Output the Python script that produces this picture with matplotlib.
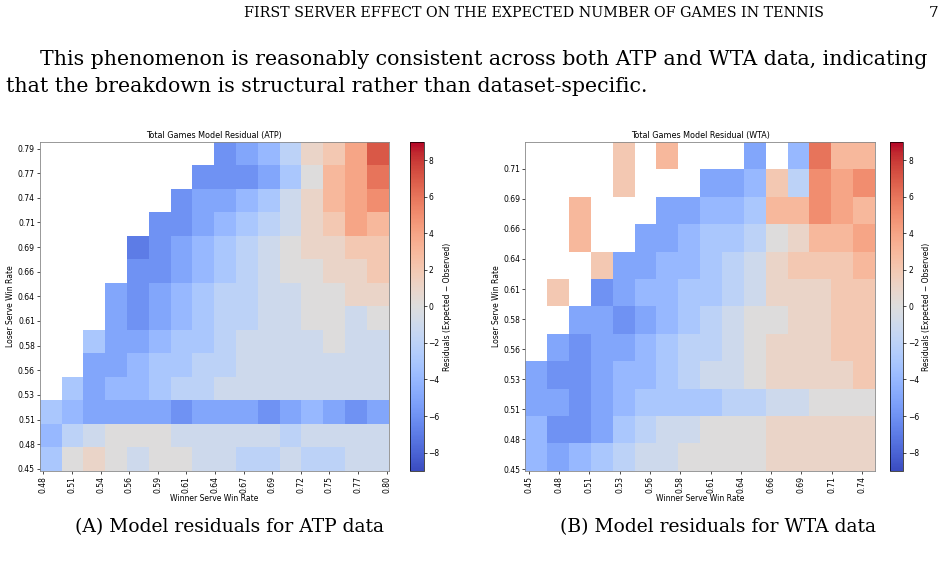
import numpy as np
import matplotlib
matplotlib.use("Agg")
import matplotlib.pyplot as plt

n = np.nan
# ATP grid: rows top->bottom
atp_x_range = (0.475, 0.805)
atp_y_range = (0.448, 0.795)
atp_vals = [
 [n,n,n,n,n,n,n,n,-6,-5,-4,-2,1,2,4,7],
 [n,n,n,n,n,n,n,-6,-6,-6,-5,-3,0,3,4,6],
 [n,n,n,n,n,n,-6,-5,-5,-4,-3,-1,1,3,4,5],
 [n,n,n,n,n,-6,-6,-5,-4,-3,-2,-1,1,2,4,3],
 [n,n,n,n,-7,-6,-5,-4,-3,-2,-1,0,1,1,2,2],
 [n,n,n,n,-6,-6,-5,-4,-3,-2,-1,0,0,1,1,2],
 [n,n,n,-5,-6,-5,-4,-3,-2,-2,-1,-1,0,0,1,1],
 [n,n,n,-5,-6,-5,-4,-3,-2,-2,-1,-1,0,0,-1,0],
 [n,n,-3,-5,-5,-4,-3,-3,-2,-1,-1,-1,-1,0,-1,-1],
 [n,n,-5,-5,-4,-3,-3,-2,-2,-1,-1,-1,-1,-1,-1,-1],
 [n,-3,-5,-4,-4,-3,-2,-2,-1,-1,-1,-1,-1,-1,-1,-1],
 [-3,-4,-5,-5,-5,-5,-6,-5,-5,-5,-6,-5,-4,-5,-6,-5],
 [-4,-2,-1,0,0,0,-1,-1,-1,-1,-1,-2,-1,-1,-1,-1],
 [-3,0,1,0,-1,0,0,-1,-1,-2,-2,-1,-2,-2,-1,-1],
]
atp_xt = ["0.48","0.51","0.54","0.56","0.59","0.61","0.64","0.67","0.69","0.72","0.75","0.77","0.80"]
atp_yt = ["0.45","0.48","0.51","0.53","0.56","0.58","0.61","0.64","0.66","0.69","0.71","0.74","0.77","0.79"]

wta_x_range = (0.445, 0.755)
wta_y_range = (0.447, 0.725)
wta_vals = [
 [n,n,n,n,2,n,3,n,n,n,-5,n,-4,6,3,3],
 [n,n,n,n,2,n,n,n,-5,-5,-4,2,-2,5,4,5],
 [n,n,3,n,n,n,-5,-5,-4,-4,-3,3,3,5,4,3],
 [n,n,3,n,n,-5,-5,-4,-3,-3,-2,0,1,3,3,4],
 [n,n,n,2,-5,-5,-4,-4,-3,-2,-1,1,2,2,2,3],
 [n,2,n,-6,-5,-4,-4,-3,-3,-2,-1,1,1,1,2,2],
 [n,n,-5,-5,-6,-5,-4,-3,-2,-1,0,0,1,1,2,2],
 [n,-5,-6,-5,-5,-4,-3,-2,-2,-1,0,1,1,1,2,2],
 [-5,-6,-6,-5,-4,-4,-3,-2,-1,-1,0,1,1,1,1,2],
 [-5,-5,-6,-5,-4,-3,-3,-3,-3,-2,-2,-1,-1,0,0,0],
 [-4,-6,-6,-5,-3,-2,-1,-1,0,0,0,1,1,1,1,1],
 [-4,-5,-4,-3,-2,-1,-1,0,0,0,0,1,1,1,1,1],
]
wta_xt = ["0.45","0.48","0.51","0.53","0.56","0.58","0.61","0.64","0.66","0.69","0.71","0.74"]
wta_yt = ["0.45","0.48","0.51","0.53","0.56","0.58","0.61","0.64","0.66","0.69","0.71"]

fig = plt.figure(figsize=(9.48, 5.70), dpi=100)
serif = "DejaVu Serif"
fig.text(0.563, 0.978, "FIRST SERVER EFFECT ON THE EXPECTED NUMBER OF GAMES IN TENNIS",
         ha="center", va="center", family=serif, fontsize=10.3)
fig.text(0.99, 0.978, "7", ha="right", va="center", family=serif, fontsize=11)
fig.text(0.042, 0.895, "This phenomenon is reasonably consistent across both ATP and WTA data, indicating",
         ha="left", va="center", family=serif, fontsize=14.8)
fig.text(0.006, 0.848, "that the breakdown is structural rather than dataset-specific.",
         ha="left", va="center", family=serif, fontsize=14.8)
fig.text(0.242, 0.075, "(A) Model residuals for ATP data", ha="center", va="center", family=serif, fontsize=13.5)
fig.text(0.757, 0.075, "(B) Model residuals for WTA data", ha="center", va="center", family=serif, fontsize=13.5)

def panel(ax_rect, cb_rect, vals, xr, yr, xt, yt, xf, yf, title):
    ax = fig.add_axes(ax_rect)
    cax = fig.add_axes(cb_rect)
    arr = np.array(vals, dtype=float)[::-1]
    nr, nc = arr.shape
    xe = np.linspace(xr[0], xr[1], nc + 1)
    ye = np.linspace(yr[0], yr[1], nr + 1)
    m = ax.pcolormesh(xe, ye, np.ma.masked_invalid(arr), cmap="coolwarm", vmin=-9, vmax=9)
    ax.set_xlim(xr); ax.set_ylim(yr)
    xp = xr[0] + np.linspace(xf[0], xf[1], len(xt)) * (xr[1] - xr[0])
    yp = yr[0] + np.linspace(yf[0], yf[1], len(yt)) * (yr[1] - yr[0])
    ax.set_xticks(xp); ax.set_xticklabels(xt, rotation=90, fontsize=5.5)
    ax.set_yticks(yp); ax.set_yticklabels(yt, fontsize=5.5)
    ax.tick_params(length=2, width=0.5, pad=1.5)
    ax.set_title(title, fontsize=5.8, pad=3)
    ax.set_xlabel("Winner Serve Win Rate", fontsize=5.5, labelpad=1)
    ax.set_ylabel("Loser Serve Win Rate", fontsize=5.5, labelpad=2)
    for s in ax.spines.values():
        s.set_linewidth(0.6); s.set_color("#888888")
    cb = fig.colorbar(m, cax=cax)
    cb.set_ticks([-8, -6, -4, -2, 0, 2, 4, 6, 8])
    cb.ax.tick_params(labelsize=5.5, length=2, width=0.5, pad=1.5)
    cb.set_label("Residuals (Expected \u2212 Observed)", fontsize=5.5, labelpad=2)
    cb.outline.set_linewidth(0.5)

panel([0.042, 0.174, 0.368, 0.577], [0.433, 0.174, 0.014, 0.577], atp_vals,
      atp_x_range, atp_y_range, atp_xt, atp_yt, (0.01, 0.994), (0.006, 0.98),
      "Total Games Model Residual (ATP)")
panel([0.554, 0.174, 0.369, 0.577], [0.939, 0.174, 0.014, 0.577], wta_vals,
      wta_x_range, wta_y_range, wta_xt, wta_yt, (0.01, 0.963), (0.005, 0.918),
      "Total Games Model Residual (WTA)")

fig.savefig("out.png", dpi=100)
